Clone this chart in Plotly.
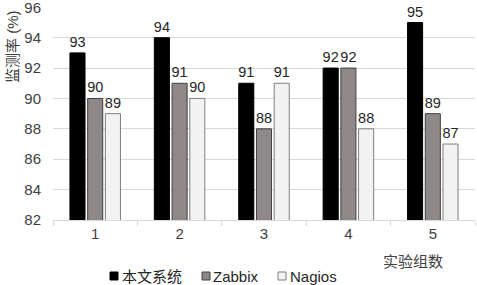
import plotly.graph_objects as go

categories = ["1", "2", "3", "4", "5"]
series_names = ["本文系统", "Zabbix", "Nagios"]
s1 = [93, 94, 91, 92, 95]
s2 = [90, 91, 88, 92, 89]
s3 = [89, 90, 91, 88, 87]
y_ticks = [82, 84, 86, 88, 90, 92, 94, 96]

fills = ["#000000", "#8e8888", "#f2f2f2"]
lines = ["#000000", "#404040", "#7f7f7f"]
FONT = "Liberation Sans, Arial, Noto Sans CJK SC"

W, H = 477, 285
ML, MR, MT, MB = 53, 2, 7, 65
PW, PH = W - ML - MR, H - MT - MB


def px_x(p):
    return (p - ML) / PW


def px_y(p):
    return (H - MB - p) / PH


fig = go.Figure()
for name, vals, fc, lc in zip(series_names, [s1, s2, s3], fills, lines):
    fig.add_trace(go.Bar(
        x=categories, y=vals, name=name,
        marker=dict(color=fc, line=dict(color=lc, width=1)),
        text=[str(v) for v in vals], textposition="outside",
        constraintext="none",
        textfont=dict(size=14.5, color="#262626", family=FONT),
        cliponaxis=False, showlegend=False,
    ))

# legend (manual, Excel-style: small key square right next to the text)
leg_sq_x = [110, 202, 278]
leg_txt_x = [120, 211, 288]
leg_y = 276
shapes = []
annotations = []
for name, fc, lc, sx, tx in zip(series_names, fills, lines, leg_sq_x, leg_txt_x):
    shapes.append(dict(type="rect", xref="paper", yref="paper",
                       x0=px_x(sx), x1=px_x(sx + 8), y0=px_y(leg_y + 4), y1=px_y(leg_y - 4),
                       fillcolor=fc, line=dict(color=lc, width=1)))
    annotations.append(dict(text=name, xref="paper", yref="paper", x=px_x(tx), y=px_y(leg_y),
                            xanchor="left", yanchor="middle", showarrow=False,
                            font=dict(size=15, color="#262626")))

annotations += [
    dict(text="实验组数", xref="paper", yref="paper", x=px_x(413), y=px_y(261),
         xanchor="center", yanchor="middle", showarrow=False,
         font=dict(size=15, color="#404040")),
    dict(text="监测率 (%)", xref="paper", yref="paper", x=px_x(12), y=px_y(47),
         xanchor="center", yanchor="middle", showarrow=False, textangle=-90,
         font=dict(size=15, color="#404040")),
]

fig.update_layout(
    width=W, height=H,
    margin=dict(l=ML, r=MR, t=MT, b=MB, autoexpand=False),
    paper_bgcolor="white", plot_bgcolor="white",
    barmode="group", bargap=0.37, bargroupgap=0.15,
    font=dict(family=FONT, size=15, color="#404040"),
    showlegend=False,
    xaxis=dict(type="category", showline=True, linecolor="#d9d9d9", linewidth=1,
               ticks="outside", tickson="boundaries", tickcolor="#d9d9d9", ticklen=5,
               automargin=False,
               tickfont=dict(size=15, color="#404040")),
    yaxis=dict(range=[82, 96.02], tickvals=y_ticks,
               showgrid=True, gridcolor="#d9d9d9",
               zeroline=False, showline=False, ticks="", automargin=False,
               ticklabelstandoff=11, ticklabeloverflow="allow",
               tickfont=dict(size=15, color="#404040")),
    shapes=shapes,
    annotations=annotations,
)

fig.write_html("out.html", config={"displayModeBar": False},
               post_script="document.body.style.margin='0';")
